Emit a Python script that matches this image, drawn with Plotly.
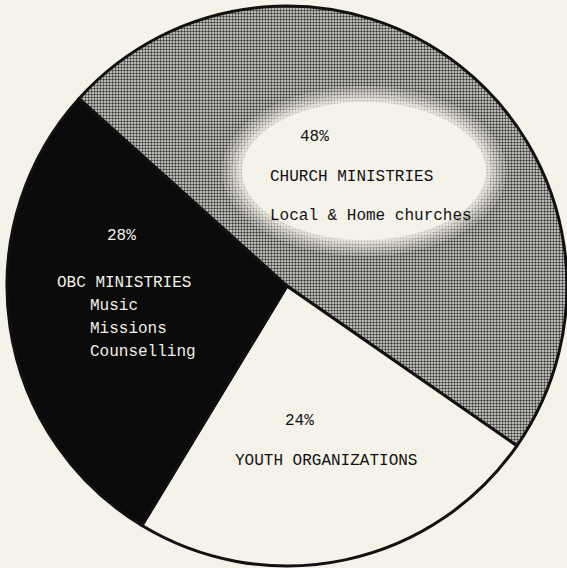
import plotly.graph_objects as go

# ---- data ----
categories = ["CHURCH MINISTRIES", "YOUTH ORGANIZATIONS", "OBC MINISTRIES"]
shares = [48, 24, 28]
church_sub = ["Local & Home churches"]
obc_sub = ["Music", "Missions", "Counselling"]

W, H = 567, 568
PAPER = "#f5f2e9"
FONT = "Liberation Mono"

fig = go.Figure()
fig.add_trace(go.Pie(
    labels=categories,
    values=shares,
    sort=False,
    direction="clockwise",
    rotation=-48,
    textinfo="none",
    hoverinfo="label+percent",
    showlegend=False,
    domain=dict(x=[0.0123, 1.0], y=[0.0035, 0.9894]),
    marker=dict(
        colors=["#8c8c88", PAPER, "#0b0b0b"],
        line=dict(color="#111111", width=3),
        pattern=dict(shape=[".", "", ""], size=3, solidity=0.5,
                     fgcolor="#3a3a3a", bgcolor="#e4e2da", fillmode="replace"),
    ),
))

def px(x):
    return x / W

def py(y):
    return 1 - y / H

# soft erased halo around the church text: stacked translucent ellipses
shapes = []
halo_steps = [(0, 0.18), (5, 0.22), (10, 0.3), (15, 0.45), (20, 1.0)]
for inset, op in halo_steps:
    shapes.append(dict(
        type="circle", xref="paper", yref="paper",
        x0=px(222 + inset), x1=px(506 - inset),
        y0=py(86 + inset * 0.8), y1=py(256 - inset * 0.8),
        fillcolor=PAPER, opacity=op, line=dict(width=0), layer="above"))

annots = []
def add(text, x, y, color="#111111"):
    annots.append(dict(text=text, x=px(x), y=py(y), xref="paper", yref="paper",
                       xanchor="left", yanchor="middle", showarrow=False,
                       font=dict(family=FONT, size=16, color=color)))

# Church ministries block
add(f"{shares[0]}%", 298, 137)
add(categories[0], 268, 177)
add(church_sub[0], 268, 216)
# OBC block (white on black)
white = "#f2efe6"
add(f"{shares[2]}%", 105, 236, white)
add(categories[2], 55, 283, white)
for i, s in enumerate(obc_sub):
    add(s, 88, 306 + 23 * i, white)
# Youth block
add(f"{shares[1]}%", 283, 421)
add(categories[1], 233, 461)

fig.update_layout(
    width=W, height=H,
    margin=dict(l=0, r=0, t=0, b=0),
    paper_bgcolor=PAPER,
    plot_bgcolor=PAPER,
    shapes=shapes,
    annotations=annots,
)

fig.write_html(
    "out.html",
    config={"displayModeBar": False},
    post_script="document.body.style.margin='0';document.body.style.overflow='hidden';"
                "document.documentElement.style.overflow='hidden';"
                "document.body.style.background='" + PAPER + "';",
)
